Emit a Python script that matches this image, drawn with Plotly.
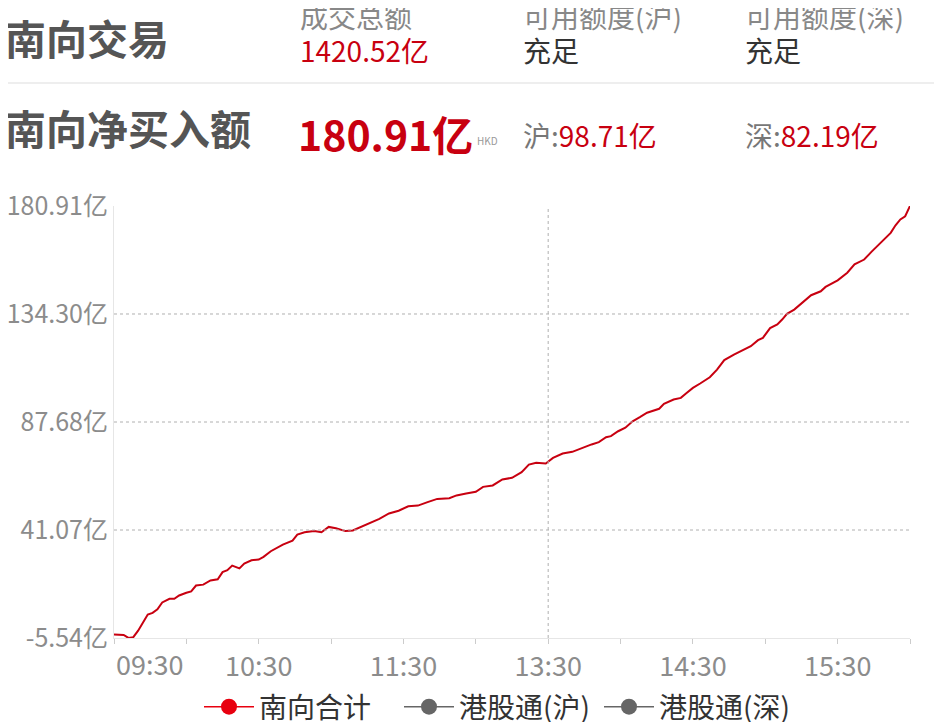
import plotly.graph_objects as go

# 南向资金分时净买入（亿港元），读图估计
times = ['09:30', '09:34', '09:36', '09:38', '09:40', '09:42', '09:44', '09:46', '09:48', '09:50',
         '09:53', '09:55', '09:57', '10:00', '10:02', '10:04', '10:07', '10:10', '10:13', '10:15',
         '10:17', '10:19', '10:22', '10:24', '10:27', '10:30', '10:32', '10:35', '10:37', '10:40',
         '10:44', '10:46', '10:49', '10:53', '10:56', '10:59', '11:02', '11:06', '11:09', '11:13',
         '11:17', '11:20', '11:24', '11:28', '11:32', '11:36', '11:40', '11:44', '11:49', '11:52',
         '11:56', '13:00', '13:03', '13:07', '13:11', '13:15', '13:19', '13:22', '13:25', '13:29',
         '13:32', '13:36', '13:40', '13:44', '13:48', '13:51', '13:54', '13:56', '13:59', '14:02',
         '14:05', '14:08', '14:11', '14:16', '14:18', '14:22', '14:25', '14:27', '14:30', '14:33',
         '14:37', '14:40', '14:43', '14:47', '14:51', '14:54', '14:57', '14:59', '15:02', '15:05',
         '15:07', '15:09', '15:12', '15:16', '15:19', '15:23', '15:25', '15:30', '15:34', '15:37',
         '15:41', '15:44', '15:48', '15:52', '15:54', '15:56', '15:58', '16:00']
net_buy = [-4.0, -4.2, -5.5, -5.2, -2.4, 1.0, 4.6, 5.3, 6.8, 9.8,
           11.4, 11.4, 12.8, 14.0, 14.6, 17.1, 17.5, 19.3, 19.8, 22.9,
           23.7, 25.7, 24.5, 26.6, 28.0, 28.3, 29.5, 31.9, 33.1, 34.8,
           36.5, 39.1, 40.1, 40.6, 40.1, 42.4, 41.8, 40.6, 40.9, 42.7,
           44.4, 45.9, 48.2, 49.4, 51.3, 51.6, 53.1, 54.5, 54.8, 56.0,
           56.8, 57.6, 59.7, 60.3, 62.9, 63.6, 66.0, 69.3, 70.1, 69.8,
           72.2, 74.1, 74.8, 76.5, 78.0, 79.0, 81.1, 81.6, 83.7, 85.2,
           88.0, 89.8, 91.7, 93.4, 95.5, 97.4, 98.1, 99.9, 102.4, 104.3,
           107.0, 110.3, 114.4, 116.8, 119.0, 120.4, 123.0, 124.0, 128.2, 129.8,
           131.9, 134.4, 136.2, 139.8, 142.4, 144.1, 146.0, 148.8, 152.1, 155.7,
           157.8, 161.1, 165.4, 169.3, 172.6, 175.1, 176.5, 180.91]

y_ticks = [-5.54, 41.07, 87.68, 134.30, 180.91]
x_tick_times = ['09:30', '10:00', '10:30', '11:00', '11:30', '13:00', '13:30', '14:00', '14:30', '15:00', '15:30', '16:00']
x_label_times = ['10:30', '11:30', '13:30', '14:30', '15:30']

legend_names = ['南向合计', '港股通(沪)', '港股通(深)']

FONT = 'Noto Sans CJK SC'
RED = '#c80010'


def trade_minute(t):
    # 交易分钟：上午 09:30 起算，午休跳过
    h, m = map(int, t.split(':'))
    tot = h * 60 + m
    if tot >= 13 * 60:
        return 150 + tot - 13 * 60
    return tot - (9 * 60 + 30)


# 页面坐标换算（绘图区 114..910 x 206..638）
def px(x):
    return (x - 114) / 796


def py(y):
    return (638 - y) / 432


x_vals = [trade_minute(t) for t in times]

fig = go.Figure()
fig.add_trace(go.Scatter(x=x_vals, y=net_buy, mode='lines', name=legend_names[0],
                         line=dict(color=RED, width=2), showlegend=False))
# 图例项
fig.add_trace(go.Scatter(x=[None], y=[None], mode='lines+markers', name=legend_names[0],
                         line=dict(color='#e8000f', width=1.5), marker=dict(size=18, color='#e8000f')))
for nm in legend_names[1:]:
    fig.add_trace(go.Scatter(x=[None], y=[None], mode='lines+markers', name=nm,
                             line=dict(color='#666', width=1.5), marker=dict(size=18, color='#666')))

tickvals = [trade_minute(t) for t in x_tick_times]
ticktext = [t if t in x_label_times else '' for t in x_tick_times]

fig.update_xaxes(range=[0, 330], tickvals=tickvals, ticktext=ticktext, ticks='outside', ticklen=5,
                 tickcolor='#cccccc', showline=True, linecolor='#e6e6e6', showgrid=False, zeroline=False,
                 automargin=False, tickfont=dict(family=FONT, size=27, color='#8c8c8c'))
fig.update_yaxes(range=[-5.54, 180.91], tickvals=y_ticks, ticktext=[f'{v:.2f}亿' for v in y_ticks],
                 showline=True, linecolor='#e6e6e6', showgrid=False, zeroline=False, ticks='',
                 automargin=False, tickfont=dict(family=FONT, size=25, color='#8c8c8c'))

shapes = []
for v in y_ticks[1:-1]:
    shapes.append(dict(type='line', xref='paper', yref='y', x0=0, x1=1, y0=v, y1=v,
                       line=dict(color='#b0b0b0', width=1, dash='dot')))
# 十字光标竖线 13:30
shapes.append(dict(type='line', xref='x', yref='paper', x0=trade_minute('13:30'), x1=trade_minute('13:30'),
                   y0=0, y1=1, line=dict(color='#b0b0b0', width=1, dash='dot')))
# 头部分隔线
shapes.append(dict(type='line', xref='paper', yref='paper', x0=px(0), x1=px(942), y0=py(83), y1=py(83),
                   line=dict(color='#eeeeee', width=2)))

ann = []


def label(x, y, text, size, color, bold=False):
    if bold:
        text = '<b>' + text + '</b>'
    ann.append(dict(xref='paper', yref='paper', x=px(x), y=py(y), text=text, showarrow=False,
                    xanchor='left', yanchor='middle', font=dict(family=FONT, size=size, color=color)))


label(3, 37, '南向交易', 41, '#555555', bold=True)
label(298, 16, '成交总额', 28, '#888888')
label(298, 50, '1420.52亿', 28, RED)
label(521, 16, '可用额度(沪)', 28, '#888888')
label(521, 50, '充足', 28, '#333333')
label(743, 16, '可用额度(深)', 28, '#888888')
label(743, 50, '充足', 28, '#333333')
label(3, 127, '南向净买入额', 41, '#555555', bold=True)
label(296, 133, '180.91亿', 41, RED, bold=True)
label(475, 141, 'HKD', 10, '#999999')
label(521, 135, '沪:<span style="color:%s">98.71亿</span>' % RED, 28, '#777777')
label(743, 135, '深:<span style="color:%s">82.19亿</span>' % RED, 28, '#777777')

# 09:30 标签左对齐
ann.append(dict(xref='x', yref='paper', x=0, y=py(642), text='09:30', showarrow=False,
                xanchor='left', yanchor='top', font=dict(family=FONT, size=27, color='#8c8c8c')))

# 页面有 8px 边距，画布相应缩小
fig.update_layout(
    width=934, height=714,
    margin=dict(l=106, r=32, t=198, b=84),
    paper_bgcolor='white', plot_bgcolor='white',
    font=dict(family=FONT),
    shapes=shapes, annotations=ann,
    showlegend=True,
    legend=dict(orientation='h', x=px(199), xanchor='left', yref='container', y=1 - (682 - 8) / 714,
                yanchor='top', font=dict(family=FONT, size=28, color='#333333'), itemwidth=50,
                entrywidth=135, entrywidthmode='pixels'),
)

fig.write_html("out.html")
